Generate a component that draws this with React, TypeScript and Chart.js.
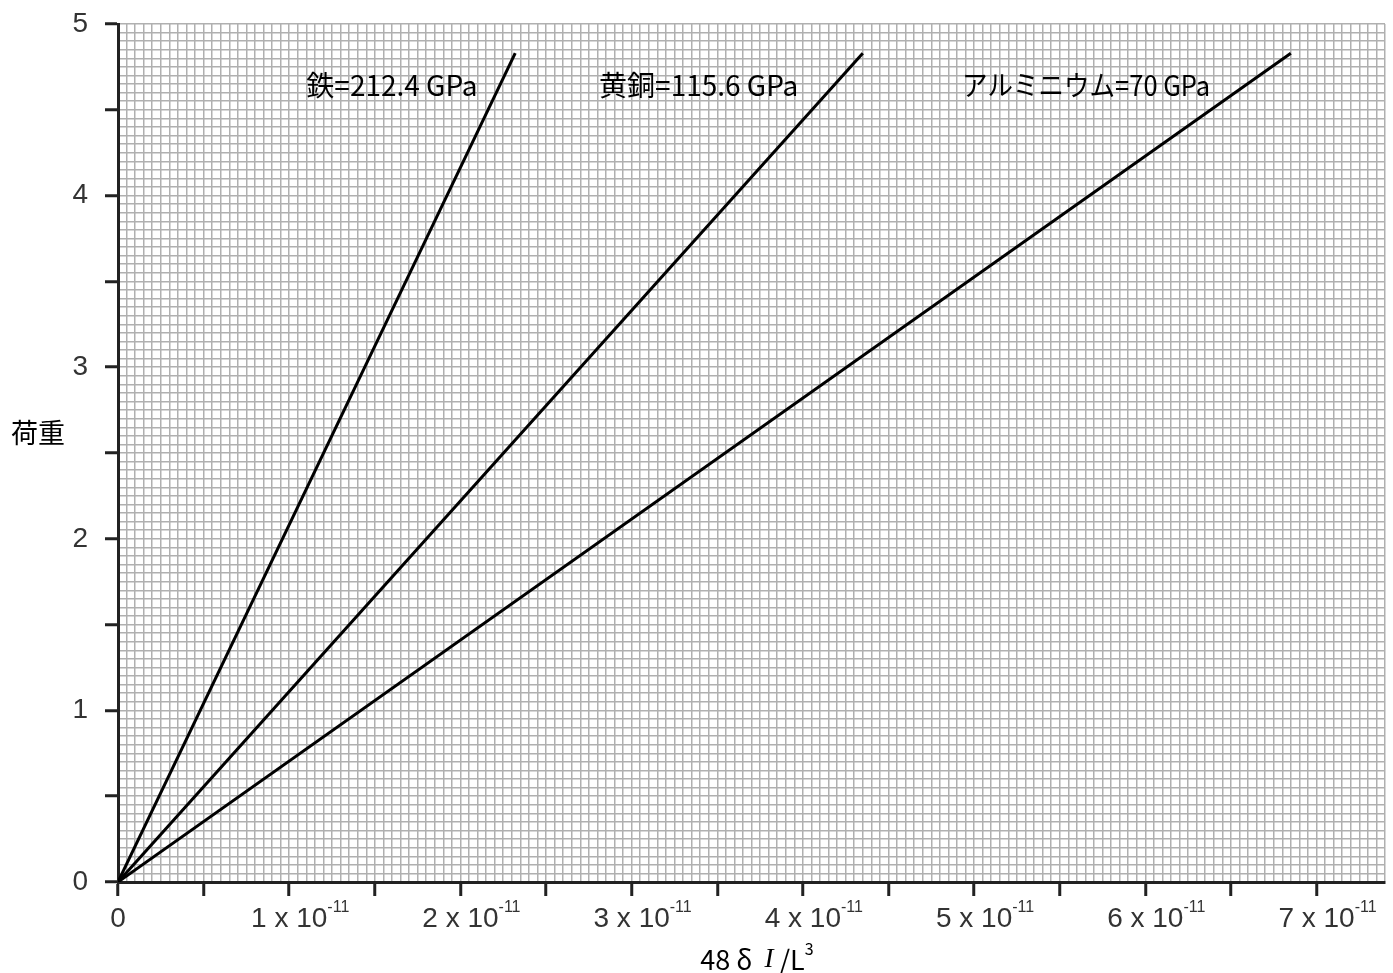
import React, { useEffect, useRef } from 'react';
import { Chart, registerables } from 'chart.js';

Chart.register(...registerables);

// x values are in units of 10^-11
const materials = ['鉄', '黄銅', 'アルミニウム'];
const moduli = ['212.4 GPa', '115.6 GPa', '70 GPa'];
const startX = [0, 0, 0];
const startY = [0, 0, 0];
const endX = [2.32, 4.35, 6.85];
const endY = [4.83, 4.83, 4.83];
const labelX = [1.1, 2.81, 4.93];
const labelY = [4.64, 4.64, 4.64];
const xTickValues = [0, 1, 2, 3, 4, 5, 6, 7];
const xTickMain = ['0', '1 x 10', '2 x 10', '3 x 10', '4 x 10', '5 x 10', '6 x 10', '7 x 10'];
const xTickSup = ['', '-11', '-11', '-11', '-11', '-11', '-11', '-11'];
const yTitle = '荷重';
const xTitleParts = ['48 δ  ', 'I', ' /L', '3'];

const near = (v: number, step: number) => Math.abs(v / step - Math.round(v / step)) < 1e-6;

const decorPlugin = {
  id: 'decor',
  afterDraw(chart: any) {
    const ctx = chart.ctx;
    const xs = chart.scales.x;
    const ys = chart.scales.y;
    ctx.save();
    // x tick labels with superscripts
    ctx.fillStyle = '#333';
    ctx.textBaseline = 'alphabetic';
    xTickValues.forEach((v, i) => {
      const px = xs.getPixelForValue(v);
      ctx.font = '28px "Liberation Sans", Arial, sans-serif';
      const w = ctx.measureText(xTickMain[i]).width;
      ctx.textAlign = 'left';
      ctx.fillText(xTickMain[i], px - w / 2, 927);
      if (xTickSup[i]) {
        ctx.font = '16px "Liberation Sans", Arial, sans-serif';
        ctx.fillText(xTickSup[i], px + w / 2, 912);
      }
    });
    // series annotations
    ctx.fillStyle = '#000';
    ctx.font = '28px "Noto Sans CJK JP", sans-serif';
    ctx.textBaseline = 'middle';
    ctx.textAlign = 'left';
    const widths = [174, 200, 248];
    materials.forEach((m, i) => {
      const px = xs.getPixelForValue(labelX[i]);
      const py = ys.getPixelForValue(labelY[i]);
      ctx.fillText(m + '=' + moduli[i], px, py, widths[i]);
    });
    // y title
    ctx.font = '27px "Noto Sans CJK JP", sans-serif';
    ctx.fillText(yTitle, 11, 433);
    // x title
    const fonts = [
      '27px "Noto Sans CJK JP", sans-serif',
      'italic 27px "Liberation Serif", serif',
      '27px "Noto Sans CJK JP", sans-serif',
      '16px "Noto Sans CJK JP", sans-serif',
    ];
    const ws = xTitleParts.map((t, i) => { ctx.font = fonts[i]; return ctx.measureText(t).width; });
    const total = ws.reduce((a, b) => a + b, 0);
    let cx = 757 - total / 2;
    xTitleParts.forEach((t, i) => {
      ctx.font = fonts[i];
      ctx.fillText(t, cx, i === 3 ? 949 : 960);
      cx += ws[i];
    });
    ctx.restore();
  },
};

export default function App() {
  const ref = useRef<HTMLCanvasElement>(null);
  useEffect(() => {
    if (!ref.current) return;
    const datasets = materials.map((m, i) => ({
      label: m,
      data: [
        { x: startX[i], y: startY[i] },
        { x: endX[i], y: endY[i] },
      ],
      borderColor: '#000',
      borderWidth: 3,
      pointRadius: 0,
      fill: false,
      tension: 0,
    }));
    const chart = new Chart(ref.current, {
      type: 'line',
      data: { datasets },
      options: {
        animation: false,
        responsive: false,
        layout: { padding: { left: 0, top: 24, right: 8, bottom: 0 } },
        plugins: { legend: { display: false }, tooltip: { enabled: false } },
        scales: {
          x: {
            type: 'linear',
            min: 0,
            max: 7.4,
            afterFit: (s: any) => { s.height = 91; s.paddingLeft = 0; s.paddingRight = 0; },
            ticks: {
              stepSize: 0.05,
              autoSkip: false,
              maxTicksLimit: 1000,
              callback: () => '',
            },
            grid: {
              color: '#b0b0b0',
              lineWidth: 1.5,
              tickLength: 14,
              tickWidth: 3,
              tickColor: (c: any) => (c.tick && near(c.tick.value, 0.5) ? '#222' : 'rgba(0,0,0,0)'),
            },
            border: { color: '#222', width: 3 },
          },
          y: {
            type: 'linear',
            min: 0,
            max: 5,
            afterFit: (s: any) => { s.width = 118; s.paddingTop = 0; s.paddingBottom = 0; },
            ticks: {
              stepSize: 0.05,
              autoSkip: false,
              maxTicksLimit: 1000,
              padding: 17,
              color: '#333',
              font: { family: '"Liberation Sans", Arial, sans-serif', size: 28 },
              callback: (v: any) => (near(Number(v), 1) ? String(Math.round(Number(v))) : ''),
            },
            grid: {
              color: '#b0b0b0',
              lineWidth: 1.5,
              tickLength: 13,
              tickWidth: 3,
              tickColor: (c: any) => (c.tick && near(c.tick.value, 0.5) ? '#222' : 'rgba(0,0,0,0)'),
            },
            border: { color: '#222', width: 3 },
          },
        },
      },
      plugins: [decorPlugin],
    });
    return () => chart.destroy();
  }, []);
  return (
    <div style={{ position: 'fixed', left: 0, top: 0, width: 1393, height: 973, background: '#fff' }}>
      <canvas ref={ref} width={1393} height={973} style={{ width: 1393, height: 973 }} />
    </div>
  );
}
